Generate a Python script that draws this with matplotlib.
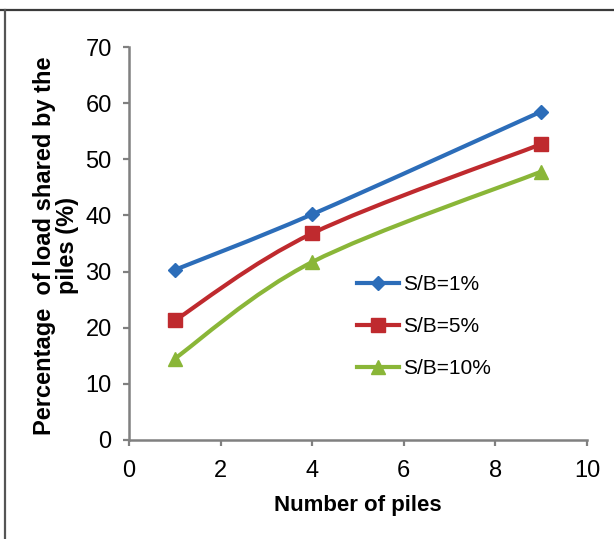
import numpy as np
import matplotlib
matplotlib.use('Agg')
import matplotlib.pyplot as plt
from matplotlib.path import Path
from matplotlib.patches import PathPatch
from matplotlib.lines import Line2D

# data
piles = [1, 4, 9]
sb_1 = [30.3, 40.2, 58.5]
sb_5 = [21.3, 36.8, 52.7]
sb_10 = [14.5, 31.7, 47.8]
labels = ['S/B=1%', 'S/B=5%', 'S/B=10%']

W, H = 614, 539
NARROW = ['Liberation Sans Narrow', 'Liberation Sans', 'DejaVu Sans']
SANS = ['Liberation Sans', 'DejaVu Sans']


def smooth_path(x, y):
    # excel-like smoothed line: cubic bezier with catmull-rom control points
    p = np.column_stack([x, y]).astype(float)
    ext = np.vstack([p[0], p, p[-1]])
    verts = [p[0]]
    codes = [Path.MOVETO]
    for i in range(len(p) - 1):
        p0, p1, p2, p3 = ext[i], ext[i + 1], ext[i + 2], ext[i + 3]
        c1 = p1 + (p2 - p0) / 6.0
        c2 = p2 - (p3 - p1) / 6.0
        verts += [c1, c2, p2]
        codes += [Path.CURVE4] * 3
    return Path(verts, codes)


fig = plt.figure(figsize=(W / 100, H / 100), dpi=100)
ax = fig.add_axes([129 / W, 1 - 440 / H, (587 - 129) / W, (440 - 47) / H])

series = [
    (sb_1, '#2C6DB9', 'D', 7.2),
    (sb_5, '#BF2A2E', 's', 10),
    (sb_10, '#8AB638', '^', 10.5),
]
handles = []
for (vals, col, mk, ms), lab in zip(series, labels):
    ax.add_patch(PathPatch(smooth_path(piles, vals), fill=False, edgecolor=col,
                           lw=3.0, capstyle='round', zorder=3))
    ax.plot(piles, vals, ls='none', marker=mk, ms=ms, color=col,
            markeredgecolor=col, zorder=4)
    handles.append(Line2D([], [], color=col, lw=3.0, marker=mk, ms=ms,
                          markeredgecolor=col, label=lab))

ax.set_xlim(0, 10)
ax.set_ylim(0, 70)
ax.set_xticks(range(0, 11, 2))
ax.set_yticks(range(0, 71, 10))

for s in ['top', 'right']:
    ax.spines[s].set_visible(False)
for s in ['left', 'bottom']:
    ax.spines[s].set_color('#808080')
    ax.spines[s].set_linewidth(1.8)
ax.tick_params(direction='out', length=4.5, width=1.6, color='#808080')
ax.tick_params(axis='y', pad=8)
ax.tick_params(axis='x', pad=10)
for t in ax.get_xticklabels() + ax.get_yticklabels():
    t.set_family(NARROW)
    t.set_fontsize(17)

ax.set_xlabel('Number of piles', family=SANS, fontsize=16,
              fontweight='bold', labelpad=9)
fig.text(56 / W, 1 - 246 / H, 'Percentage  of load shared by the\npiles (%)',
         rotation=90, ha='center', va='center', multialignment='center',
         family=SANS, fontsize=17, fontweight='bold', linespacing=1.05)

leg = ax.legend(handles=handles, loc='upper left',
                bbox_to_anchor=((357 - 129) / 458, (440 - 275) / 393),
                frameon=False, prop={'family': SANS, 'size': 15},
                handlelength=2.0, handletextpad=0.2, labelspacing=1.1,
                borderpad=0, borderaxespad=0, numpoints=1)

# outer frame lines (top and left)
fig.add_artist(Line2D([0, 1], [1 - 10 / H, 1 - 10 / H], color='#3a3a3a', lw=1.6,
                      transform=fig.transFigure))
fig.add_artist(Line2D([5 / W, 5 / W], [0, 1 - 10 / H], color='#555555', lw=1.6,
                      transform=fig.transFigure))

fig.savefig('out.png', dpi=100)
